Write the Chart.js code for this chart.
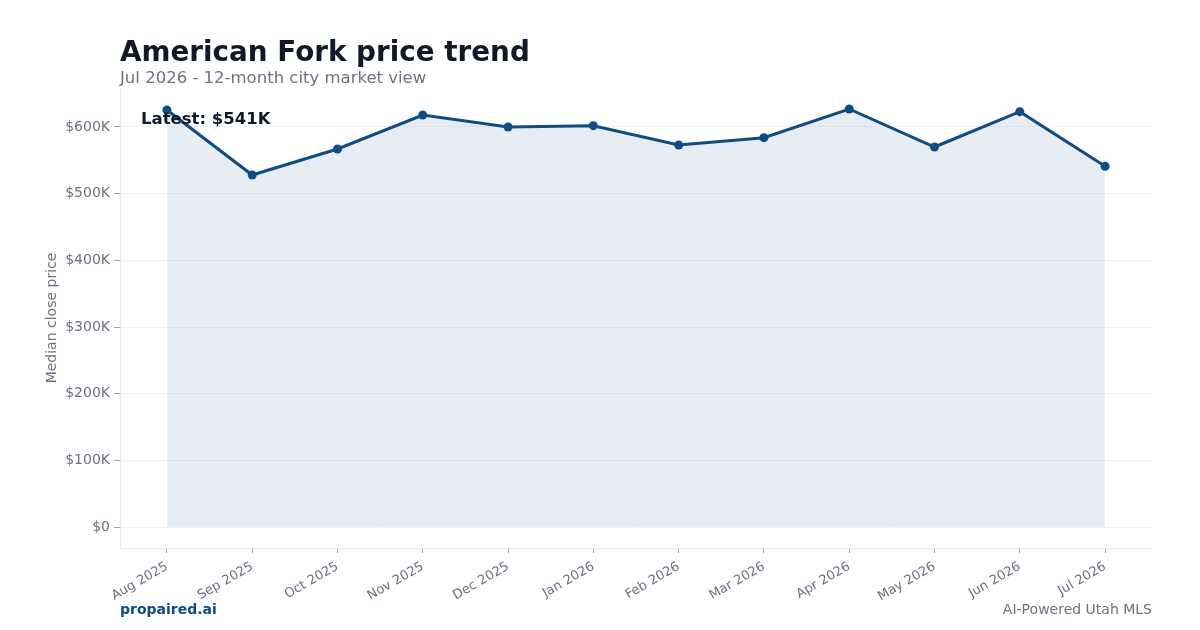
<!DOCTYPE html>
<html>
<head>
<meta charset="utf-8">
<script src="https://cdn.jsdelivr.net/npm/chart.js@4.4.1/dist/chart.umd.min.js"></script>
<style>
  html, body { margin: 0; padding: 0; background: #ffffff; }
  body { width: 1200px; height: 630px; position: relative; overflow: hidden; font-family: "DejaVu Sans", sans-serif; }
  #chart { position: absolute; left: 0; top: 0; }
  .txt { position: absolute; line-height: 1; white-space: nowrap; }
  #title { left: 120px; top: 38px; font-size: 27.8px; font-weight: bold; color: #111827; }
  #subtitle { left: 120px; top: 70px; font-size: 16.5px; color: #6b7280; }
  #latest { left: 141px; top: 111px; font-size: 16.5px; font-weight: bold; color: #111827; }
  #brand { left: 120px; top: 602px; font-size: 14px; font-weight: bold; color: #0f4c81; }
  #source { right: 48px; top: 602px; font-size: 14px; color: #6b7280; }
</style>
</head>
<body>
<canvas id="chart" width="1200" height="630"></canvas>
<div class="txt" id="title">American Fork price trend</div>
<div class="txt" id="subtitle">Jul 2026 - 12-month city market view</div>
<div class="txt" id="latest">Latest: $541K</div>
<div class="txt" id="brand">propaired.ai</div>
<div class="txt" id="source">AI-Powered Utah MLS</div>
<script>
// data
const months = ['Aug 2025', 'Sep 2025', 'Oct 2025', 'Nov 2025', 'Dec 2025', 'Jan 2026',
                'Feb 2026', 'Mar 2026', 'Apr 2026', 'May 2026', 'Jun 2026', 'Jul 2026'];
const medianPrice = [625500, 528000, 567000, 618000, 600000, 602000,
                     573000, 584000, 627000, 570000, 623000, 541000];
const yTicks = [0, 100000, 200000, 300000, 400000, 500000, 600000];

const lineColor = '#0f4c81';
const axisColor = '#e5e7eb';
const tickText = '#6b7280';

const points = medianPrice.map((v, i) => ({ x: i, y: v }));

new Chart(document.getElementById('chart'), {
    type: 'line',
    data: {
        datasets: [{
            data: points,
            borderColor: lineColor,
            borderWidth: 3,
            backgroundColor: 'rgba(15, 76, 129, 0.10)',
            fill: { value: 0 },
            pointRadius: 4.5,
            pointBackgroundColor: lineColor,
            pointBorderColor: lineColor,
            pointBorderWidth: 0,
            tension: 0
        }]
    },
    options: {
        responsive: false,
        animation: false,
        layout: { padding: { top: 88, right: 48, left: 0, bottom: 0 } },
        plugins: { legend: { display: false }, tooltip: { enabled: false } },
        scales: {
            x: {
                type: 'linear',
                min: -0.55,
                max: 11.55,
                afterBuildTicks: s => { s.ticks = months.map((m, i) => ({ value: i })); },
                afterFit: s => { s.height = 82; },
                grid: { drawOnChartArea: false, drawTicks: true, tickLength: 5, tickColor: '#9ca3af' },
                border: { color: axisColor },
                ticks: {
                    minRotation: 30,
                    maxRotation: 30,
                    padding: 6,
                    color: tickText,
                    font: { family: 'DejaVu Sans', size: 13 },
                    callback: v => months[v]
                }
            },
            y: {
                min: -31500,
                max: 658500,
                afterBuildTicks: s => { s.ticks = yTicks.map(v => ({ value: v })); },
                afterFit: s => { s.width = 120; },
                grid: { color: '#f1f2f4', tickLength: 6, tickColor: '#9ca3af' },
                border: { color: axisColor },
                title: {
                    display: true,
                    text: 'Median close price',
                    color: tickText,
                    font: { family: 'DejaVu Sans', size: 14 },
                    padding: { top: 44, bottom: 0 }
                },
                ticks: {
                    color: tickText,
                    padding: 4,
                    font: { family: 'DejaVu Sans', size: 14 },
                    callback: v => '$' + (v === 0 ? '0' : (v / 1000) + 'K')
                }
            }
        }
    }
});
</script>
</body>
</html>
